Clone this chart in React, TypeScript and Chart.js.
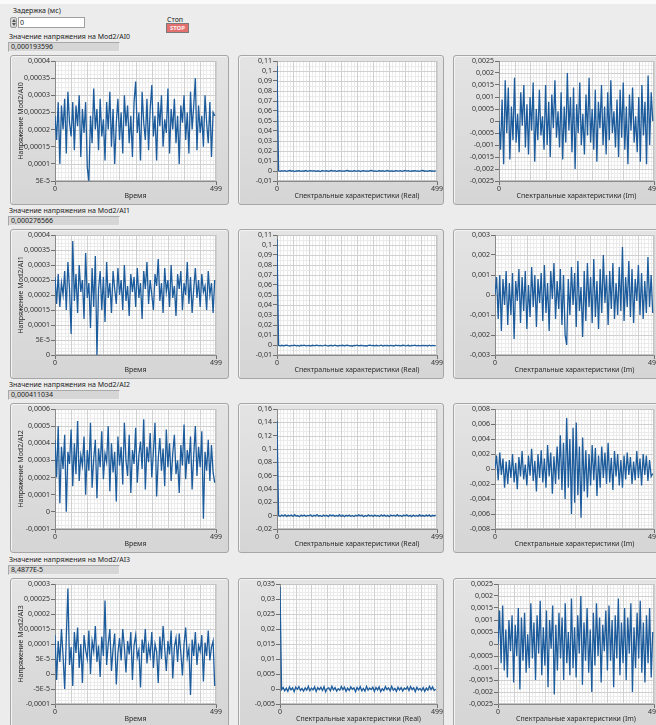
import React, { useEffect, useRef } from 'react';
import { Chart, registerables } from 'chart.js';

Chart.register(...registerables);

// ---------------- DATA ----------------
// Every 5th sample of the 500-sample record (indices 0..495)
const SAMPLE_STEP = 5;
const xTickValues = [0, 499];
const xTickLabels = ['0', '499'];

const channelNames = ['AI0', 'AI1', 'AI2', 'AI3'];
const channelReadings = ['0,000193596', '0,000276566', '0,000411034', '8,4877E-5'];
const delayValue = '0';

// Time domain, units of 1e-5 V
const ai0Time = [
  24, 17, 28, 10, 27, 20, 29, 13, 31, 22,
  18, 28, 14, 27, 21, 30, 12, 26, 19, 28,
  9, 5, 24, 16, 32, 20, 26, 14, 29, 18,
  23, 11, 28, 20, 31, 15, 26, 10, 22, 29,
  17, 25, 13, 30, 21, 27, 16, 24, 12, 28,
  34, 19, 25, 11, 31, 22, 17, 29, 14, 26,
  33, 18, 24, 11, 28, 21, 30, 15, 23, 19,
  32, 13, 26, 20, 29, 16, 24, 10, 27, 22,
  30, 17, 25, 13, 31, 20, 27, 35, 14, 27,
  19, 24, 15, 30, 22, 16, 28, 12, 25, 24,
];
const ai1Time = [
  26, 17, 27, 16, 24, 20, 28, 15, 31, 22,
  7, 38, 18, 27, 14, 30, 21, 25, 12, 34,
  19, 24, 9, 29, 16, 33, 0, 22, 28, 15,
  26, 11, 31, 19, 24, 14, 28, 22, 17, 29,
  20, 25, 15, 30, 18, 23, 13, 27, 21, 26,
  16, 29, 19, 24, 12, 28, 22, 31, 17, 25,
  20, 15, 27, 23, 32, 18, 24, 14, 29, 21,
  25, 16, 30, 19, 23, 13, 27, 22, 28, 15,
  24, 20, 31, 17, 26, 14, 22, 29, 19, 25,
  16, 27, 21, 23, 15, 28, 20, 24, 14, 25,
];
const ai2Time = [
  42, 20, 50, 5, 38, 25, 45, 0, 35, 28,
  48, 15, 40, 22, 53, 18, 33, 27, 44, 10,
  36, 24, 52, 14, 31, 42, 8, 37, 26, 47,
  19, 34, 29, 50, 12, 40, 23, 35, 6, 44,
  27, 38, 16, 52, 30, 21, 45, 11, 36, 28,
  49, 17, 33, 41, 25, 54, 13, 38, 29, 46,
  20, 35, 52, 9, 31, 43, 24, 37, 15, 48,
  26, 40, 18, 34, 45, 22, 30, 11, 39, 27,
  51, 19, 36, 28, 44, 13, 33, 50, 21, 38,
  26, 47, -4, 35, 24, 42, 18, 39, 23, 17,
];
// Time domain, units of 1e-6 V
const ai3Time = [
  130, -20, 110, 40, 150, 60, -50, 120, 285, 30,
  90, -40, 140, 70, 155, 20, 100, -30, 130, 80,
  50, 145, 0, 110, 75, 160, 40, 95, -10, 125,
  60, 245, 30, 100, 150, 10, 85, 135, -35, 70,
  120, 45, 150, 90, 5, 110, 65, 140, -20, 95,
  130, 55, 80, -45, 115, 70, 150, 35, 95, 60,
  140, 20, 100, 75, -30, 125, 50, 160, 85, 10,
  110, 65, 145, -15, 90, 120, 40, 135, 70, -5,
  100, 155, 55, 85, -70, 115, 60, 140, 30, 95,
  75, 130, -25, 105, 60, 145, 45, 90, 110, -40,
];

// Spectrum, real part, units of 1e-4
const ai0Real = [
  1050, 2, -3, 4, -1, 3, -4, 1, 5, -2, 3,
  -5, 2, 0, 4, -3, 1, -2, 5, -4, 2,
  3, -1, 4, -3, 0, 2, -5, 3, 1, -2,
  4, -4, 2, 5, -1, 3, -3, 0, 4, -2,
  1, -4, 3, 6, -2, 2, -3, 4, 0, -1,
  3, -5, 2, 4, -2, 1, -4, 3, 5, -1,
  2, -3, 0, 4, -2, 3, -4, 1, 5, -3,
  2, 0, -4, 3, 1, -2, 4, -3, 2, 5,
  -1, 3, -4, 2, 0, 4, -2, 1, -3, 3,
  5, -2, 1, -4, 3, 0, 2, -3, 4,
];
const ai1Real = [
  1060, -4, -8, -3, -9, -5, -2, -7, -10, -4, -6,
  -1, -8, -5, -11, -3, -7, -2, -9, -6, -4,
  -10, -3, -7, -5, -1, -8, -4, -9, -6, -2,
  -7, -11, -3, -5, -8, -2, -6, -10, -4, -7,
  -3, -9, -5, -1, -8, -6, -12, -4, -7, -2,
  -9, -5, -3, -8, -6, -10, -4, -1, -7, -5,
  -8, -3, -9, -6, -2, -11, -4, -7, -5, -8,
  -3, -6, -10, -2, -7, -4, -9, -5, -1, -8,
  -6, -3, -10, -5, -7, -2, -8, -4, -9, -6,
  -3, -7, -5, -11, -2, -8, -4, -6, -7,
];
const ai2Real = [
  1420, 3, -8, 10, -5, 12, -10, 6, -3, 9, -12,
  14, -6, 2, -15, 8, -4, 11, -9, 5, -2,
  13, -11, 7, -6, 16, -8, 3, -13, 10, -5,
  6, -14, 12, -3, 9, -10, 4, -7, 15, -12,
  8, -16, 5, -4, 11, -9, 2, -13, 7, -6,
  12, -3, 9, -15, 4, -8, 14, -5, 6, -11,
  10, -7, 3, -12, 13, -4, 8, -10, 5, -14,
  11, -2, 7, -9, 15, -6, 4, -11, 9, -3,
  12, -8, 6, -13, 10, -5, 2, -9, 14, -7,
  5, -10, 8, -4, 11, -12, 6, -3, 9,
];
const ai3Real = [
  340, -2, 5, -6, 3, -8, 7, -3, 4, -9, 6,
  -1, 8, -5, 2, -7, 4, -4, 9, -6, 3,
  -3, 7, -8, 5, -2, 6, -5, 8, -9, 2,
  4, -6, 9, -3, 5, -7, 1, -4, 8, -2,
  6, -8, 3, -5, 7, -1, 4, -9, 5, -3,
  8, -6, 2, -7, 9, -4, 3, -2, 6, -8,
  5, -3, 7, -9, 1, -5, 8, -2, 4, -6,
  9, -4, 2, -8, 6, -3, 5, -7, 3, -1,
  7, -5, 8, -2, 4, -9, 6, -3, 2, -6,
  5, -8, 3, -4, 9, -2, 7, -5, -1,
];

// Spectrum, imaginary part, units of 1e-4
const ai0Im = [
  0, -12, 9, -18, 17, -5, 14, -16, 6, -8,
  18, -9, 3, -13, 12, -2, 15, -11, 7, -14,
  10, -4, 16, -17, 5, -8, 13, -6, 2, -12,
  15, -10, 8, -15, 11, -3, 17, -7, 4, -11,
  12, -16, 6, -9, 20, -4, 10, -13, 14, -20,
  7, -5, 16, -10, 3, -14, 11, -6, 18, -9,
  5, -12, 13, -17, 8, -3, 15, -10, 6, -14,
  12, -8, 17, -5, 4, -11, 9, -15, 13, -7,
  16, -12, 6, -18, 11, -4, 14, -9, 2, -13,
  10, -17, 15, -6, 8, -18, 19, -10, 12, 0,
];
const ai1Im = [
  0, 9, -12, 10, -18, 8, -5, 12, -15, 6,
  -10, 11, -22, 7, -3, 13, -14, 9, -8, 12,
  -17, 5, -11, 14, -6, 10, -16, 8, -4, 11,
  -13, 15, -9, 6, -18, 12, -2, 16, -12, 7,
  -7, 13, -15, 10, -20, -25, 8, -10, 14, -5,
  11, -16, 17, -8, 4, -21, 12, -13, 16, -6,
  9, -14, 18, -11, 7, -17, 13, -9, 20, -4,
  10, -15, 12, -7, 16, -12, 6, -10, 14, -8,
  24, -13, 9, -6, 17, -11, 13, -14, 8, -3,
  15, -10, 11, -12, 7, -9, 19, -6, 10, -9,
];
const ai2Im = [
  0, 18, -15, 22, -8, 14, -25, 10, -20, 12,
  -12, 20, -18, 8, -27, 16, -10, 24, -14, 6,
  -22, 18, -9, 27, -16, 11, -30, 20, -12, 25,
  -18, 14, -25, 32, -10, 22, -33, 17, -20, 30,
  -14, 45, -28, 35, -40, 68, -25, 40, -60, 55,
  -45, 62, -35, 30, -65, 42, -30, 25, -38, 20,
  -22, 32, -15, 28, -36, 18, -25, 30, -12, 22,
  -20, 35, -18, 15, -28, 24, -10, 20, -22, 12,
  -25, 18, -14, 22, -8, 16, -20, 10, -15, 24,
  -12, 14, -22, 20, -8, 18, -16, 12, -10, -6,
];
const ai3Im = [
  0, 14, -8, 16, -11, 6, -14, 10, -3, 12,
  -16, 8, -5, 15, -19, 11, -7, 13, -12, 4,
  -10, 17, -6, 9, -15, 12, -4, 18, -13, 7,
  -9, 14, -18, 10, -2, 16, -21, 8, -11, 13,
  -6, 11, -15, 17, -8, 5, -13, 19, -10, 7,
  -14, 12, -4, 20, -17, 9, -7, 15, -12, 6,
  -20, 13, -9, 17, -5, 11, -16, 8, -3, 14,
  -11, 16, -7, 10, -18, 12, -6, 19, -13, 9,
  -8, 15, -15, 11, -4, 17, -20, 7, -10, 13,
  -6, 18, -12, 9, -16, 12, -8, 15, -14, 5,
];

// Y tick values (same units as the series) and their displayed labels
const ai0TimeTicks = [5, 10, 15, 20, 25, 30, 35, 40];
const ai0TimeLabels = ['5E-5', '0,0001', '0,00015', '0,0002', '0,00025', '0,0003', '0,00035', '0,0004'];
const ai1TimeTicks = [0, 5, 10, 15, 20, 25, 30, 35, 40];
const ai1TimeLabels = ['0', '5E-5', '0,0001', '0,00015', '0,0002', '0,00025', '0,0003', '0,00035', '0,0004'];
const ai2TimeTicks = [-10, 0, 10, 20, 30, 40, 50, 60];
const ai2TimeLabels = ['-0,0001', '0', '0,0001', '0,0002', '0,0003', '0,0004', '0,0005', '0,0006'];
const ai3TimeTicks = [-100, -50, 0, 50, 100, 150, 200, 250, 300];
const ai3TimeLabels = ['-0,0001', '-5E-5', '0', '5E-5', '0,0001', '0,00015', '0,0002', '0,00025', '0,0003'];

const realTicks01 = [-100, 0, 100, 200, 300, 400, 500, 600, 700, 800, 900, 1000, 1100];
const realLabels01 = ['-0,01', '0', '0,01', '0,02', '0,03', '0,04', '0,05', '0,06', '0,07', '0,08', '0,09', '0,1', '0,11'];
const ai2RealTicks = [-200, 0, 200, 400, 600, 800, 1000, 1200, 1400, 1600];
const ai2RealLabels = ['-0,02', '0', '0,02', '0,04', '0,06', '0,08', '0,1', '0,12', '0,14', '0,16'];
const ai3RealTicks = [-50, 0, 50, 100, 150, 200, 250, 300, 350];
const ai3RealLabels = ['-0,005', '0', '0,005', '0,01', '0,015', '0,02', '0,025', '0,03', '0,035'];

const im25Ticks = [-25, -20, -15, -10, -5, 0, 5, 10, 15, 20, 25];
const im25Labels = ['-0,0025', '-0,002', '-0,0015', '-0,001', '-0,0005', '0', '0,0005', '0,001', '0,0015', '0,002', '0,0025'];
const ai1ImTicks = [-30, -20, -10, 0, 10, 20, 30];
const ai1ImLabels = ['-0,003', '-0,002', '-0,001', '0', '0,001', '0,002', '0,003'];
const ai2ImTicks = [-80, -60, -40, -20, 0, 20, 40, 60, 80];
const ai2ImLabels = ['-0,008', '-0,006', '-0,004', '-0,002', '0', '0,002', '0,004', '0,006', '0,008'];

const xTitleTime = 'Время';
const xTitleReal = 'Спектральные характеристики (Real)';
const xTitleIm = 'Спектральные характеристики (Im)';

// ---------------- LAYOUT ----------------
const PANEL_H = 150;
const PLOT_TOP = 6;
const PLOT_BOTTOM = 126;
const rowTops = [55, 229, 403, 578];
const colLeft = [10, 238, 453];
const colWidth = [219, 206, 215];
const colPlotRight = [216, 437, 654];
const colPlotLeft = [
  [55, 55, 55, 55],
  [277, 277, 277, 280],
  [499, 495, 495, 498],
];

const LINE_COLOR = '#1d5c9c';
const FONT = '"Noto Sans", "DejaVu Sans", sans-serif';

type Spec = {
  values: number[];
  yTicks: number[];
  yLabels: string[];
  xTitle: string;
  yTitle?: string;
  left: number;
  top: number;
  width: number;
  plotLeft: number;
  plotRight: number;
};

const seriesGrid = [
  [ai0Time, ai0Real, ai0Im],
  [ai1Time, ai1Real, ai1Im],
  [ai2Time, ai2Real, ai2Im],
  [ai3Time, ai3Real, ai3Im],
];
const tickGrid = [
  [[ai0TimeTicks, ai0TimeLabels], [realTicks01, realLabels01], [im25Ticks, im25Labels]],
  [[ai1TimeTicks, ai1TimeLabels], [realTicks01, realLabels01], [ai1ImTicks, ai1ImLabels]],
  [[ai2TimeTicks, ai2TimeLabels], [ai2RealTicks, ai2RealLabels], [ai2ImTicks, ai2ImLabels]],
  [[ai3TimeTicks, ai3TimeLabels], [ai3RealTicks, ai3RealLabels], [im25Ticks, im25Labels]],
] as [number[], string[]][][];
const xTitles = [xTitleTime, xTitleReal, xTitleIm];

const specs: Spec[] = [];
for (let r = 0; r < 4; r++) {
  for (let c = 0; c < 3; c++) {
    specs.push({
      values: seriesGrid[r][c],
      yTicks: tickGrid[r][c][0],
      yLabels: tickGrid[r][c][1],
      xTitle: xTitles[c],
      yTitle: c === 0 ? 'Напряжение Mod2/' + channelNames[r] : undefined,
      left: colLeft[c],
      top: rowTops[r],
      width: colWidth[c],
      plotLeft: colPlotLeft[c][r],
      plotRight: colPlotRight[c],
    });
  }
}

const lvGridPlugin = {
  id: 'lvGrid',
  beforeDraw(chart: any) {
    const { ctx, chartArea } = chart;
    const { left, right, top, bottom } = chartArea;
    const xs = chart.scales.x;
    const ys = chart.scales.y;
    const yt: number[] = chart.options.plugins.lvGrid.ticks;
    ctx.save();
    ctx.fillStyle = '#ffffff';
    ctx.fillRect(left, top, right - left, bottom - top);
    ctx.lineWidth = 1;
    const vline = (px: number, color: string) => {
      const p = Math.round(px) + 0.5;
      ctx.strokeStyle = color;
      ctx.beginPath();
      ctx.moveTo(p, top);
      ctx.lineTo(p, bottom);
      ctx.stroke();
    };
    const hline = (py: number, color: string) => {
      const p = Math.round(py) + 0.5;
      ctx.strokeStyle = color;
      ctx.beginPath();
      ctx.moveTo(left, p);
      ctx.lineTo(right, p);
      ctx.stroke();
    };
    const minorC = '#ebebeb';
    const majorC = '#d0d0d0';
    for (let i = 0; i <= 50; i++) if (i % 5) vline(xs.getPixelForValue((i * 499) / 50), minorC);
    const tickPx = Math.abs(ys.getPixelForValue(yt[1]) - ys.getPixelForValue(yt[0]));
    const sub = Math.max(2, Math.round(tickPx / 4.2));
    for (let k = 0; k < yt.length - 1; k++) {
      for (let j = 1; j < sub; j++) {
        hline(ys.getPixelForValue(yt[k] + ((yt[k + 1] - yt[k]) * j) / sub), minorC);
      }
    }
    for (let i = 0; i <= 10; i++) vline(xs.getPixelForValue((i * 499) / 10), majorC);
    for (const v of yt) hline(ys.getPixelForValue(v), majorC);
    ctx.strokeStyle = '#c4c4c4';
    ctx.strokeRect(left + 0.5, top + 0.5, right - left - 1, bottom - top - 1);
    ctx.restore();
  },
};

function LvGraph({ spec }: { spec: Spec }) {
  const ref = useRef<HTMLCanvasElement>(null);
  useEffect(() => {
    const yWidth = spec.plotLeft - spec.left;
    const padRight = spec.left + spec.width - spec.plotRight;
    const yMin = spec.yTicks[0];
    const yMax = spec.yTicks[spec.yTicks.length - 1];
    const chart = new Chart(ref.current as HTMLCanvasElement, {
      type: 'line',
      data: {
        datasets: [
          {
            data: spec.values.map((v, i) => ({ x: i * SAMPLE_STEP, y: v })),
            borderColor: LINE_COLOR,
            borderWidth: 1.3,
            pointRadius: 0,
            tension: 0,
            fill: false,
          },
        ],
      },
      options: {
        animation: false,
        responsive: false,
        devicePixelRatio: 1,
        parsing: false,
        layout: { padding: { top: PLOT_TOP, right: padRight, left: 0, bottom: 0 }, autoPadding: false },
        plugins: {
          legend: { display: false },
          tooltip: { enabled: false },
          lvGrid: { ticks: spec.yTicks },
        } as any,
        scales: {
          x: {
            type: 'linear',
            min: 0,
            max: 499,
            afterBuildTicks: (s: any) => {
              s.ticks = xTickValues.map((v) => ({ value: v }));
            },
            afterFit: (s: any) => {
              s.height = PANEL_H - PLOT_BOTTOM;
            },
            ticks: {
              callback: (_v: any, i: number) => xTickLabels[i],
              padding: 0,
              maxRotation: 0,
              autoSkip: false,
              font: { size: 7, family: FONT },
              color: '#333',
            },
            grid: { drawOnChartArea: false, drawTicks: true, tickLength: 4, color: '#6f6f6f' },
            border: { display: true, color: '#8a8a8a' },
            title: {
              display: true,
              text: spec.xTitle,
              font: { size: 7, family: FONT },
              color: '#2a2a2a',
              padding: { top: 0, bottom: 5 },
            },
          },
          y: {
            type: 'linear',
            min: yMin,
            max: yMax,
            afterBuildTicks: (s: any) => {
              s.ticks = spec.yTicks.map((v) => ({ value: v }));
            },
            afterFit: (s: any) => {
              s.width = yWidth;
            },
            ticks: {
              callback: (_v: any, i: number) => spec.yLabels[i],
              padding: 1,
              autoSkip: false,
              font: { size: 7, family: FONT },
              color: '#333',
            },
            grid: { drawOnChartArea: false, drawTicks: true, tickLength: 4, color: '#6f6f6f' },
            border: { display: true, color: '#8a8a8a' },
            title: {
              display: !!spec.yTitle,
              text: spec.yTitle || '',
              font: { size: 7, family: FONT },
              color: '#2a2a2a',
              padding: { top: 7, bottom: 0 },
            },
          },
        },
      } as any,
      plugins: [lvGridPlugin],
    });
    return () => chart.destroy();
  }, [spec]);

  return (
    <>
      <div
        style={{
          position: 'absolute',
          left: spec.left,
          top: spec.top,
          width: spec.width,
          height: PANEL_H,
          boxSizing: 'border-box',
          background: 'linear-gradient(#e4e4e4, #d5d5d5)',
          border: '1px solid #a6a6a6',
          borderRadius: 3,
          boxShadow: 'inset 1px 1px 0 #f3f3f3',
        }}
      />
      <canvas
        ref={ref}
        width={spec.width}
        height={PANEL_H}
        style={{ position: 'absolute', left: spec.left, top: spec.top, width: spec.width, height: PANEL_H }}
      />
    </>
  );
}

const textStyle: React.CSSProperties = {
  position: 'absolute',
  fontSize: 7,
  lineHeight: '8px',
  color: '#222',
  fontFamily: FONT,
  whiteSpace: 'nowrap',
};

export default function App() {
  return (
    <div
      style={{
        position: 'absolute',
        left: 0,
        top: 0,
        width: 656,
        height: 725,
        overflow: 'hidden',
        background: '#ececec',
        fontFamily: FONT,
      }}
    >
      <div style={{ position: 'absolute', left: 0, top: 0, width: 656, height: 4, background: '#fafafa' }} />
      {/* Delay control */}
      <div style={{ ...textStyle, left: 13, top: 7 }}>Задержка (мс)</div>
      <div
        style={{
          position: 'absolute',
          left: 10,
          top: 17,
          width: 7,
          height: 11,
          boxSizing: 'border-box',
          background: '#d8d8d8',
          border: '1px solid #9a9a9a',
          borderRadius: 2,
        }}
      >
        <div style={{ position: 'absolute', left: 1, top: 1, width: 0, height: 0, borderLeft: '2px solid transparent', borderRight: '2px solid transparent', borderBottom: '3px solid #555' }} />
        <div style={{ position: 'absolute', left: 1, top: 5, width: 0, height: 0, borderLeft: '2px solid transparent', borderRight: '2px solid transparent', borderTop: '3px solid #555' }} />
      </div>
      <div
        style={{
          position: 'absolute',
          left: 18,
          top: 17,
          width: 67,
          height: 11,
          boxSizing: 'border-box',
          background: '#ffffff',
          border: '1px solid #a0a0a0',
        }}
      />
      <div style={{ ...textStyle, left: 20, top: 18.5 }}>{delayValue}</div>
      {/* Stop button */}
      <div style={{ ...textStyle, left: 167, top: 16 }}>Стоп</div>
      <div
        style={{
          position: 'absolute',
          left: 166,
          top: 23,
          width: 23,
          height: 10,
          boxSizing: 'border-box',
          background: '#e36f6f',
          border: '1px solid #7a7a7a',
          fontSize: 6,
          lineHeight: '8px',
          fontWeight: 700,
          color: '#fff2f2',
          textAlign: 'center',
          fontFamily: FONT,
        }}
      >
        STOP
      </div>
      {rowTops.map((t, r) => (
        <React.Fragment key={r}>
          <div style={{ ...textStyle, left: 9, top: t - 22 }}>{'Значение напряжения на Mod2/' + channelNames[r]}</div>
          <div
            style={{
              position: 'absolute',
              left: 8,
              top: t - 13,
              width: 112,
              height: 10,
              boxSizing: 'border-box',
              background: '#d6d6d6',
              borderTop: '1px solid #a8a8a8',
              borderLeft: '1px solid #a8a8a8',
              borderBottom: '1px solid #efefef',
              borderRight: '1px solid #efefef',
            }}
          />
          <div style={{ ...textStyle, left: 11, top: t - 12 }}>{channelReadings[r]}</div>
        </React.Fragment>
      ))}
      {specs.map((s, i) => (
        <LvGraph key={i} spec={s} />
      ))}
    </div>
  );
}
